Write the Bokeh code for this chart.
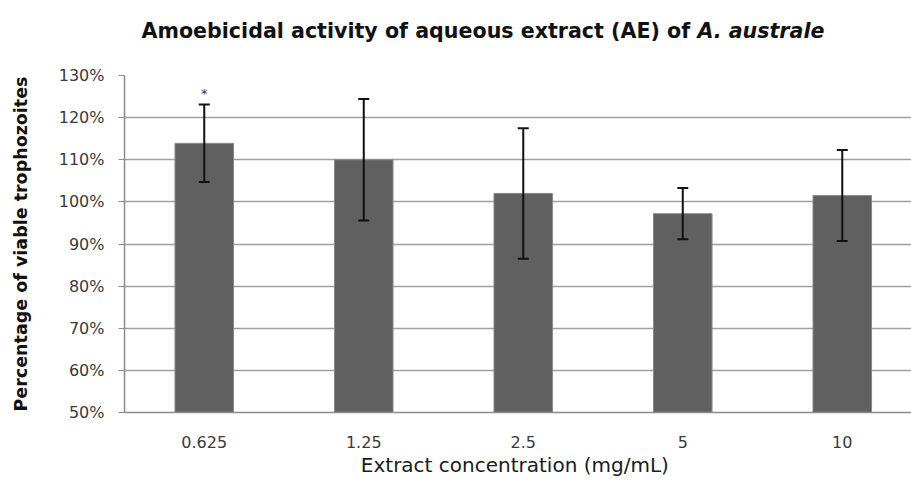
from bokeh.plotting import figure
from bokeh.layouts import column
from bokeh.models import ColumnDataSource, Range1d, FixedTicker, Whisker, TeeHead, Div
from bokeh.core.properties import value
from bokeh.embed import file_html
from bokeh.resources import INLINE

# ---- data ----
concentrations = ["0.625", "1.25", "2.5", "5", "10"]
viability = [113.9, 110.0, 102.0, 97.2, 101.5]
error = [9.2, 14.4, 15.5, 6.1, 10.8]
significance = ["*", "", "", "", ""]
y_ticks = [50, 60, 70, 80, 90, 100, 110, 120, 130]
y_tick_labels = ["50%", "60%", "70%", "80%", "90%", "100%", "110%", "120%", "130%"]
title_main = "Amoebicidal activity of aqueous extract (AE) of"
title_species = "A. australe"
x_title = "Extract  concentration (mg/mL)"
y_title = "Percentage of viable trophozoites"

xpos = list(range(len(concentrations)))
src = ColumnDataSource(dict(
    x=xpos,
    top=viability,
    upper=[v + e for v, e in zip(viability, error)],
    lower=[v - e for v, e in zip(viability, error)],
    sig=significance,
))

TITLE_H = 50
title_div = Div(
    text=(f'<div style="box-sizing:border-box;width:911px;padding-left:55px;'
          f'padding-top:19px;text-align:center;font-family:\'DejaVu Sans\';'
          f'font-weight:bold;font-size:20.6px;line-height:24px;color:#111111;'
          f'white-space:nowrap">{title_main} <i>{title_species}</i></div>'),
    width=911, height=TITLE_H, margin=0)

p = figure(width=911, height=481 - TITLE_H, output_backend="svg", toolbar_location=None,
           x_range=Range1d(-0.5, 4.434), y_range=Range1d(y_ticks[0], y_ticks[-1]),
           min_border_left=124, min_border_right=0, min_border_top=75 - TITLE_H,
           min_border_bottom=69, margin=0)
p.outline_line_color = None
p.background_fill_color = "white"
p.border_fill_color = "white"

# grid
p.xgrid.grid_line_color = None
p.ygrid.ticker = FixedTicker(ticks=y_ticks)
p.ygrid.grid_line_color = "#a0a0a0"
p.ygrid.grid_line_width = 1.6

# bars
p.vbar(x="x", top="top", bottom=y_ticks[0], width=0.367, source=src,
       fill_color="#606060", line_color="#8a8a8a", line_width=1)

# error bars
head_kw = dict(size=11, line_width=2, line_color="#111111")
p.add_layout(Whisker(source=src, base="x", upper="upper", lower="lower",
                     line_width=2, line_color="#111111", level="overlay",
                     upper_head=TeeHead(**head_kw), lower_head=TeeHead(**head_kw)))

# significance marks
p.text(x="x", y="upper", text="sig", source=src, text_align="center",
       text_baseline="bottom", y_offset=-4, text_font=value("DejaVu Sans"),
       text_font_size="13px", text_color="#333333")

# x axis
p.xaxis.ticker = FixedTicker(ticks=xpos)
p.xaxis.major_label_overrides = {i: c for i, c in zip(xpos, concentrations)}
p.xaxis.major_tick_out = 0
p.xaxis.major_tick_in = 0
p.xaxis.minor_tick_line_color = None
p.xaxis.axis_line_color = "#8c8c8c"
p.xaxis.axis_line_width = 1.5
p.xaxis.major_label_standoff = 23
p.xaxis.major_label_text_font = "DejaVu Sans"
p.xaxis.major_label_text_font_size = "16px"
p.xaxis.major_label_text_color = "#3a3a3a"
p.xaxis.axis_label = x_title
p.xaxis.axis_label_text_font = "DejaVu Sans"
p.xaxis.axis_label_text_font_size = "20px"
p.xaxis.axis_label_text_font_style = "normal"
p.xaxis.axis_label_text_color = "#1a1a1a"
p.xaxis.axis_label_standoff = 2

# y axis
p.yaxis.ticker = FixedTicker(ticks=y_ticks)
p.yaxis.major_label_overrides = {t: l for t, l in zip(y_ticks, y_tick_labels)}
p.yaxis.major_tick_out = 6
p.yaxis.major_tick_in = 0
p.yaxis.major_tick_line_color = "#8c8c8c"
p.yaxis.minor_tick_line_color = None
p.yaxis.axis_line_color = "#8c8c8c"
p.yaxis.axis_line_width = 1.5
p.yaxis.major_label_standoff = 14
p.yaxis.major_label_text_font = "DejaVu Sans"
p.yaxis.major_label_text_font_size = "16px"
p.yaxis.major_label_text_color = "#3a3a3a"
p.yaxis.axis_label = y_title
p.yaxis.axis_label_text_font = "DejaVu Sans"
p.yaxis.axis_label_text_font_size = "17.5px"
p.yaxis.axis_label_text_font_style = "bold"
p.yaxis.axis_label_text_color = "#111111"
p.yaxis.axis_label_standoff = 25

layout = column(title_div, p, spacing=0)
open("out.html", "w").write(file_html(layout, INLINE))
